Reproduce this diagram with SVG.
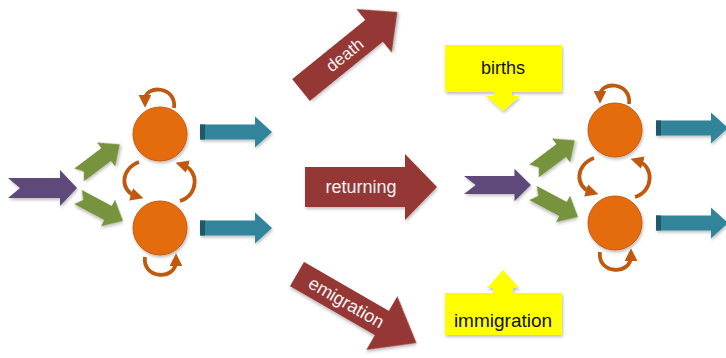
<svg xmlns="http://www.w3.org/2000/svg" width="726" height="358" viewBox="0 0 726 358">
  <defs>
    <filter id="sh" x="-20%" y="-20%" width="140%" height="140%">
      <feDropShadow dx="1" dy="2" stdDeviation="1.5" flood-color="#000" flood-opacity="0.25"/>
    </filter>
    <marker id="lh" viewBox="0 0 10 10" refX="4" refY="5" markerWidth="3.4" markerHeight="3.4" orient="auto">
      <path d="M0,0 L10,5 L0,10 Z" fill="#C0580E"/>
    </marker>
    <path id="purple" d="M0,-10 L52,-10 L52,-18 L69,0 L52,18 L52,10 L0,10 L12,0 Z"/>
    <path id="green" d="M0,-8 L34,-8 L34,-15 L51,0 L34,15 L34,8 L0,8 L6,0 Z"/>
    <path id="teal" d="M0,-7.5 L55,-7.5 L55,-15.5 L72,0 L55,15.5 L55,7.5 L0,7.5 Z"/>
  </defs>
  <style>
    .pu{fill:#5F497A;filter:url(#sh)}
    .gr{fill:#77933C;filter:url(#sh)}
    .te{fill:#31849B;filter:url(#sh)}
    .tedark{fill:#205867}
    .circ{fill:#E46C0A;stroke:#C55A11;stroke-width:1;filter:url(#sh)}
    .loop{fill:none;stroke:#C0580E;stroke-width:3.8;marker-end:url(#lh)}
    .red{fill:#953735;filter:url(#sh)}
    .yel{fill:#FFFF00;filter:url(#sh)}
    .wt{fill:#F2F2F2;font-family:"Liberation Sans",Arial,sans-serif;text-anchor:middle}
    .bt{fill:#111;font-family:"Liberation Sans",Arial,sans-serif;text-anchor:middle}
  </style>

  <rect width="726" height="358" fill="#fff"/>

  <!-- Left cluster -->
  <g id="left-input"><use href="#purple" class="pu" transform="translate(8,188)"/></g>
  <g id="left-green-top"><use href="#green" class="gr" transform="translate(79,175) rotate(-37)"/></g>
  <g id="left-green-bottom"><use href="#green" class="gr" transform="translate(78,197) rotate(28)"/></g>
  <g id="left-circle-top"><circle class="circ" cx="160" cy="134" r="27"/></g>
  <g id="left-circle-bottom"><circle class="circ" cx="160" cy="228" r="27"/></g>
  <g id="left-out-top" transform="translate(200,132)"><use href="#teal" class="te"/><rect class="tedark" x="0" y="-7.5" width="5" height="15"/></g>
  <g id="left-out-bottom" transform="translate(200,228)"><use href="#teal" class="te"/><rect class="tedark" x="0" y="-7.5" width="5" height="15"/></g>

  <!-- Right cluster -->
  <g id="right-input"><use href="#purple" class="pu" transform="translate(464,185) scale(0.97,0.9)"/></g>
  <g id="right-green-top"><use href="#green" class="gr" transform="translate(534,171) rotate(-37)"/></g>
  <g id="right-green-bottom"><use href="#green" class="gr" transform="translate(533,193) rotate(28)"/></g>
  <g id="right-circle-top"><circle class="circ" cx="615" cy="130" r="27"/></g>
  <g id="right-circle-bottom"><circle class="circ" cx="615" cy="223" r="27"/></g>
  <g id="right-out-top" transform="translate(656,128)"><use href="#teal" class="te"/><rect class="tedark" x="0" y="-7.5" width="5" height="15"/></g>
  <g id="right-out-bottom" transform="translate(656,223)"><use href="#teal" class="te"/><rect class="tedark" x="0" y="-7.5" width="5" height="15"/></g>

  <!-- Middle arrows -->
  <g id="death" transform="translate(301,90) rotate(-39)">
    <path class="red" d="M0,-14 L94,-14 L94,-28 L124,0 L94,28 L94,14 L0,14 Z"/>
    <text class="wt" x="56" y="6" font-size="17">death</text>
  </g>
  <g id="returning">
    <path class="red" d="M305,167 L405,167 L405,154 L437,187 L405,220 L405,207 L305,207 Z"/>
    <text class="wt" x="361" y="193" font-size="18">returning</text>
  </g>
  <g id="emigration" transform="translate(297,274) rotate(30)">
    <path class="red" d="M0,-14 L98,-14 L98,-31 L138,0 L98,31 L98,14 L0,14 Z"/>
    <text class="wt" x="57" y="6" font-size="18">emigration</text>
  </g>

  <!-- Yellow callouts -->
  <g id="births">
    <path class="yel" d="M445,45 L562,45 L562,92 L512,92 L512,96 L520,96 L503,111 L486,96 L494,96 L494,92 L445,92 Z"/>
    <text class="bt" x="503" y="74" font-size="18">births</text>
  </g>
  <g id="immigration">
    <path class="yel" d="M445,293 L493,293 L493,288 L487,288 L503,270 L519,288 L513,288 L513,293 L562,293 L562,335 L445,335 Z"/>
    <text class="bt" x="503" y="327" font-size="19">immigration</text>
  </g>

  <!-- Self/transition loops (connectors) -->
  <g id="connectors">
    <path class="loop" d="M174,108 C177,86 145,84 145,100"/>
    <path class="loop" d="M145,257 C142,279 176,281 176,261"/>
    <path class="loop" d="M139,162 C120,169 120,191 136,196"/>
    <path class="loop" d="M180,201 C199,195 199,170 183,165"/>
    <path class="loop" d="M629,104 C632,82 600,80 600,96"/>
    <path class="loop" d="M600,252 C597,274 631,276 631,256"/>
    <path class="loop" d="M594,158 C575,165 575,187 591,192"/>
    <path class="loop" d="M635,197 C654,191 654,166 638,161"/>
  </g>
</svg>
